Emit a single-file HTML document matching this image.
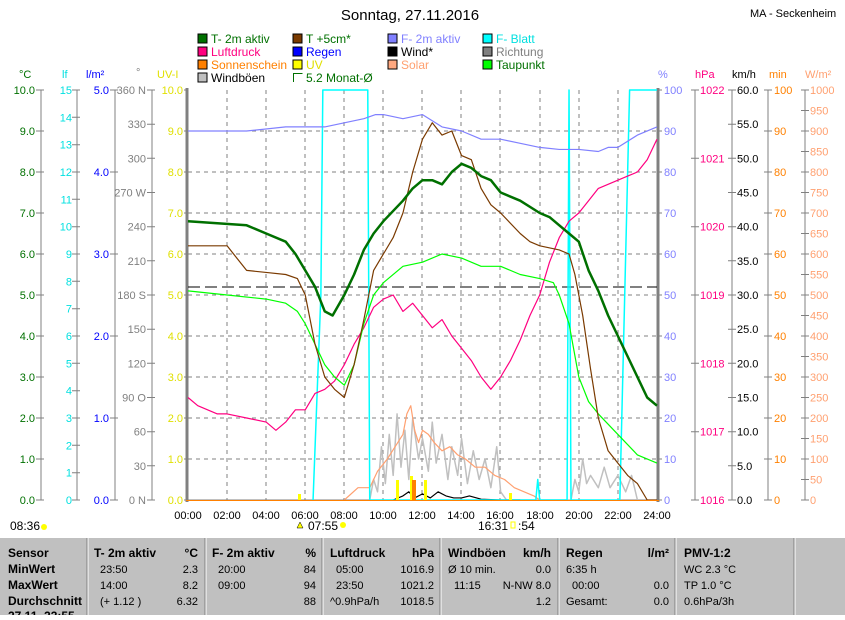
<!DOCTYPE html>
<html><head><meta charset="utf-8"><style>
body{margin:0;background:#fff;width:845px;height:615px;overflow:hidden;font-family:"Liberation Sans",sans-serif}
svg text{font-family:"Liberation Sans",sans-serif;font-size:11px}
</style></head><body>
<svg width="845" height="615" viewBox="0 0 845 615" xmlns="http://www.w3.org/2000/svg">
<rect width="845" height="615" fill="#fff"/>
<text x="410" y="20" text-anchor="middle" style="font-size:15px">Sonntag, 27.11.2016</text>
<text x="750" y="17" style="font-size:11px">MA - Seckenheim</text>
<g style="font-size:12px">
<rect x="198" y="34" width="9" height="9" fill="#007000" stroke="#000"/><text x="211" y="43" fill="#007000" style="font-size:12px">T- 2m aktiv</text>
<rect x="293" y="34" width="9" height="9" fill="#7a3a00" stroke="#000"/><text x="306" y="43" fill="#007000" style="font-size:12px">T +5cm*</text>
<rect x="388" y="34" width="9" height="9" fill="#8080ff" stroke="#000"/><text x="401" y="43" fill="#8080ff" style="font-size:12px">F- 2m aktiv</text>
<rect x="483" y="34" width="9" height="9" fill="#00ffff" stroke="#000"/><text x="496" y="43" fill="#00e0e0" style="font-size:12px">F- Blatt</text>
<rect x="198" y="47" width="9" height="9" fill="#ff0080" stroke="#000"/><text x="211" y="56" fill="#ff0080" style="font-size:12px">Luftdruck</text>
<rect x="293" y="47" width="9" height="9" fill="#0000ff" stroke="#000"/><text x="306" y="56" fill="#0000ff" style="font-size:12px">Regen</text>
<rect x="388" y="47" width="9" height="9" fill="#000" stroke="#000"/><text x="401" y="56" style="font-size:12px">Wind*</text>
<rect x="483" y="47" width="9" height="9" fill="#808080" stroke="#000"/><text x="496" y="56" fill="#808080" style="font-size:12px">Richtung</text>
<rect x="198" y="60" width="9" height="9" fill="#ff8000" stroke="#000"/><text x="211" y="69" fill="#ff8000" style="font-size:12px">Sonnenschein</text>
<rect x="293" y="60" width="9" height="9" fill="#ffff00" stroke="#000"/><text x="306" y="69" fill="#e0e000" style="font-size:12px">UV</text>
<rect x="388" y="60" width="9" height="9" fill="#ffa880" stroke="#000"/><text x="401" y="69" fill="#ffa070" style="font-size:12px">Solar</text>
<rect x="483" y="60" width="9" height="9" fill="#00ff00" stroke="#000"/><text x="496" y="69" fill="#007000" style="font-size:12px">Taupunkt</text>
<rect x="198" y="73" width="9" height="9" fill="#c0c0c0" stroke="#000"/><text x="211" y="82" style="font-size:12px">Windböen</text>
<path d="M293.5 82V73.5h9" fill="none" stroke="#007000"/><text x="306" y="82" fill="#007000" style="font-size:12px">5.2 Monat-Ø</text>
</g>
<g>
<text x="19" y="78" fill="#007000">°C</text>
<text x="62" y="78" fill="#00e0e0">lf</text>
<text x="86" y="78" fill="#0000ff">l/m²</text>
<text x="136" y="76" fill="#808080">°</text>
<text x="157" y="78" fill="#e0e000">UV-I</text>
<text x="658" y="78" fill="#8080ff">%</text>
<text x="695" y="78" fill="#ff0080">hPa</text>
<text x="732" y="78">km/h</text>
<text x="769" y="78" fill="#ff8000">min</text>
<text x="805" y="78" fill="#ffa070">W/m²</text>
</g>
<g stroke="#808080" stroke-width="1">
<line x1="41" y1="90" x2="41" y2="500"/><line x1="77" y1="90" x2="77" y2="500"/>
<line x1="115" y1="90" x2="115" y2="500"/><line x1="152" y1="90" x2="152" y2="500"/>
<line x1="695" y1="90" x2="695" y2="500"/><line x1="732" y1="90" x2="732" y2="500"/>
<line x1="768" y1="90" x2="768" y2="500"/><line x1="805" y1="90" x2="805" y2="500"/>
</g>
<!-- ticks -->
<g stroke="#808080">
<path d="M36 500h8M36 459h8M36 418h8M36 377h8M36 336h8M36 295h8M36 254h8M36 213h8M36 172h8M36 131h8M36 90h8"/>
<path d="M72 500h8M72 472.7h8M72 445.3h8M72 418h8M72 390.7h8M72 363.3h8M72 336h8M72 308.7h8M72 281.3h8M72 254h8M72 226.7h8M72 199.3h8M72 172h8M72 144.7h8M72 117.3h8M72 90h8"/>
<path d="M110 500h8M110 418h8M110 336h8M110 254h8M110 172h8M110 90h8"/>
<path d="M147 500h8M147 465.8h8M147 431.7h8M147 397.5h8M147 363.3h8M147 329.2h8M147 295h8M147 260.8h8M147 226.7h8M147 192.5h8M147 158.3h8M147 124.2h8M147 90h8"/>
<path d="M184 500h4M184 459h4M184 418h4M184 377h4M184 336h4M184 295h4M184 254h4M184 213h4M184 172h4M184 131h4M184 90h4"/>
<path d="M658 500h4M658 459h4M658 418h4M658 377h4M658 336h4M658 295h4M658 254h4M658 213h4M658 172h4M658 131h4M658 90h4"/>
<path d="M691 500h8M691 431.7h8M691 363.3h8M691 295h8M691 226.7h8M691 158.3h8M691 90h8"/>
<path d="M728 500h8M728 465.8h8M728 431.7h8M728 397.5h8M728 363.3h8M728 329.2h8M728 295h8M728 260.8h8M728 226.7h8M728 192.5h8M728 158.3h8M728 124.2h8M728 90h8"/>
<path d="M764 500h8M764 459h8M764 418h8M764 377h8M764 336h8M764 295h8M764 254h8M764 213h8M764 172h8M764 131h8M764 90h8"/>
<path d="M801 500h8M801 479.5h8M801 459h8M801 438.5h8M801 418h8M801 397.5h8M801 377h8M801 356.5h8M801 336h8M801 315.5h8M801 295h8M801 274.5h8M801 254h8M801 233.5h8M801 213h8M801 192.5h8M801 172h8M801 151.5h8M801 131h8M801 110.5h8M801 90h8"/>
</g>
<g text-anchor="end" fill="#007000" style="font-size:12px">
<text x="35" y="504">0.0</text><text x="35" y="463">1.0</text><text x="35" y="422">2.0</text><text x="35" y="381">3.0</text><text x="35" y="340">4.0</text><text x="35" y="299">5.0</text><text x="35" y="258">6.0</text><text x="35" y="217">7.0</text><text x="35" y="176">8.0</text><text x="35" y="135">9.0</text><text x="35" y="94">10.0</text>
</g>
<g text-anchor="end" fill="#00e0e0" style="font-size:12px">
<text x="72" y="504">0</text><text x="72" y="476.7">1</text><text x="72" y="449.3">2</text><text x="72" y="422">3</text><text x="72" y="394.7">4</text><text x="72" y="367.3">5</text><text x="72" y="340">6</text><text x="72" y="312.7">7</text><text x="72" y="285.3">8</text><text x="72" y="258">9</text><text x="72" y="230.7">10</text><text x="72" y="203.3">11</text><text x="72" y="176">12</text><text x="72" y="148.7">13</text><text x="72" y="121.3">14</text><text x="72" y="94">15</text>
</g>
<g text-anchor="end" fill="#0000ff" style="font-size:12px">
<text x="109" y="504">0.0</text><text x="109" y="422">1.0</text><text x="109" y="340">2.0</text><text x="109" y="258">3.0</text><text x="109" y="176">4.0</text><text x="109" y="94">5.0</text>
</g>
<g text-anchor="end" fill="#808080" style="font-size:12px">
<text x="146" y="504">0 N</text><text x="146" y="469.8">30</text><text x="146" y="435.7">60</text><text x="146" y="401.5">90 O</text><text x="146" y="367.3">120</text><text x="146" y="333.2">150</text><text x="146" y="299">180 S</text><text x="146" y="264.8">210</text><text x="146" y="230.7">240</text><text x="146" y="196.5">270 W</text><text x="146" y="162.3">300</text><text x="146" y="128.2">330</text><text x="146" y="94">360 N</text>
</g>
<g text-anchor="end" fill="#e0e000" style="font-size:12px">
<text x="183" y="504">0.0</text><text x="183" y="463">1.0</text><text x="183" y="422">2.0</text><text x="183" y="381">3.0</text><text x="183" y="340">4.0</text><text x="183" y="299">5.0</text><text x="183" y="258">6.0</text><text x="183" y="217">7.0</text><text x="183" y="176">8.0</text><text x="183" y="135">9.0</text><text x="183" y="94">10.0</text>
</g>
<g fill="#8080ff" style="font-size:12px">
<text x="664" y="504">0</text><text x="664" y="463">10</text><text x="664" y="422">20</text><text x="664" y="381">30</text><text x="664" y="340">40</text><text x="664" y="299">50</text><text x="664" y="258">60</text><text x="664" y="217">70</text><text x="664" y="176">80</text><text x="664" y="135">90</text><text x="664" y="94">100</text>
</g>
<g fill="#ff0080" style="font-size:12px">
<text x="700" y="504">1016</text><text x="700" y="435.7">1017</text><text x="700" y="367.3">1018</text><text x="700" y="299">1019</text><text x="700" y="230.7">1020</text><text x="700" y="162.3">1021</text><text x="700" y="94">1022</text>
</g>
<g fill="#000" style="font-size:12px">
<text x="737" y="504">0.0</text><text x="737" y="469.8">5.0</text><text x="737" y="435.7">10.0</text><text x="737" y="401.5">15.0</text><text x="737" y="367.3">20.0</text><text x="737" y="333.2">25.0</text><text x="737" y="299">30.0</text><text x="737" y="264.8">35.0</text><text x="737" y="230.7">40.0</text><text x="737" y="196.5">45.0</text><text x="737" y="162.3">50.0</text><text x="737" y="128.2">55.0</text><text x="737" y="94">60.0</text>
</g>
<g fill="#ff8000" style="font-size:12px">
<text x="774" y="504">0</text><text x="774" y="463">10</text><text x="774" y="422">20</text><text x="774" y="381">30</text><text x="774" y="340">40</text><text x="774" y="299">50</text><text x="774" y="258">60</text><text x="774" y="217">70</text><text x="774" y="176">80</text><text x="774" y="135">90</text><text x="774" y="94">100</text>
</g>
<g fill="#ffa070" style="font-size:12px">
<text x="810" y="504">0</text><text x="810" y="483.5">50</text><text x="810" y="463">100</text><text x="810" y="442.5">150</text><text x="810" y="422">200</text><text x="810" y="401.5">250</text><text x="810" y="381">300</text><text x="810" y="360.5">350</text><text x="810" y="340">400</text><text x="810" y="319.5">450</text><text x="810" y="299">500</text><text x="810" y="278.5">550</text><text x="810" y="258">600</text><text x="810" y="237.5">650</text><text x="810" y="217">700</text><text x="810" y="196.5">750</text><text x="810" y="176">800</text><text x="810" y="155.5">850</text><text x="810" y="135">900</text><text x="810" y="114.5">950</text><text x="810" y="94">1000</text>
</g>
<!-- plot grid -->
<g stroke="#808080" stroke-dasharray="4,4">
<line x1="188" y1="131" x2="657" y2="131"/><line x1="188" y1="172" x2="657" y2="172"/><line x1="188" y1="213" x2="657" y2="213"/><line x1="188" y1="254" x2="657" y2="254"/><line x1="188" y1="295" x2="657" y2="295"/><line x1="188" y1="336" x2="657" y2="336"/><line x1="188" y1="377" x2="657" y2="377"/><line x1="188" y1="418" x2="657" y2="418"/><line x1="188" y1="459" x2="657" y2="459"/>
<line x1="227" y1="90" x2="227" y2="500"/><line x1="266" y1="90" x2="266" y2="500"/><line x1="305" y1="90" x2="305" y2="500"/><line x1="344" y1="90" x2="344" y2="500"/><line x1="383" y1="90" x2="383" y2="500"/><line x1="422" y1="90" x2="422" y2="500"/><line x1="461" y1="90" x2="461" y2="500"/><line x1="500" y1="90" x2="500" y2="500"/><line x1="540" y1="90" x2="540" y2="500"/><line x1="579" y1="90" x2="579" y2="500"/><line x1="618" y1="90" x2="618" y2="500"/>
</g>
<line x1="187" y1="88" x2="187" y2="502" stroke="#808080" stroke-width="3"/>
<line x1="658" y1="88" x2="658" y2="502" stroke="#808080" stroke-width="3"/>
<line x1="186" y1="500" x2="659" y2="500" stroke="#808080" stroke-width="1"/>
<line x1="188" y1="287" x2="657" y2="287" stroke="#000" stroke-dasharray="12,5" stroke-width="1"/>
<g transform="translate(188,500) scale(19.54,-41)" fill="none" stroke-linejoin="round">
<polyline vector-effect="non-scaling-stroke" stroke="#c0c0c0" stroke-width="1.5" points="9.3,0 9.5,0.5 9.7,0.2 9.9,1.3 10.1,0.4 10.3,1.6 10.5,0.6 10.7,2.1 10.9,0.8 11.1,1.7 11.3,0.5 11.5,2.0 11.8,1.0 12,1.5 12.3,0.7 12.5,1.9 12.7,0.9 13,1.6 13.3,0.5 13.5,1.3 13.8,0.6 14,1.5 14.3,0.4 14.6,1.2 14.9,0.5 15.2,1.0 15.5,0.3 15.8,1.3 16,0.2 16.3,0 19.6,0 19.8,0.5 20,0.2 20.2,1.0 20.4,0.4 20.6,0.6 21,0.3 21.3,0.8 21.6,0.3 22,0.6 22.4,0.2 22.7,0.6 23,0"/>
<polyline vector-effect="non-scaling-stroke" stroke="#ffa070" stroke-width="1.2" points="8,0 8.7,0.3 9.3,0.3 9.7,0.7 10.2,1.0 10.6,1.3 11,1.6 11.2,2.1 11.4,2.3 11.6,1.7 11.8,1.4 12,1.7 12.3,1.6 12.6,1.4 13,1.2 13.4,1.3 13.8,1.1 14.2,1.0 14.7,0.8 15.2,0.8 15.7,0.6 16.2,0.5 16.7,0.3 17.2,0.2 17.7,0.1 18,0"/>
<polyline vector-effect="non-scaling-stroke" stroke="#000" stroke-width="1.2" points="10.5,0 11.0,0.1 11.3,0.2 11.6,0.05 12,0.15 12.4,0.05 12.8,0.2 13.2,0.1 13.6,0.05 14,0.05 14.4,0.1 15,0.02 16,0 17,0"/>
<polyline vector-effect="non-scaling-stroke" stroke="#00ffff" stroke-width="1.5" points="6.4,0 6.8,5 6.9,10 9.2,10 9.3,0 17.8,0 17.9,0.5 18,0 19.4,0 19.5,10 19.6,0 22.1,0 22.5,8 22.6,10 24,10"/>
<polyline vector-effect="non-scaling-stroke" stroke="#8080ff" stroke-width="1.2" points="0,9.0 3,9.0 5,9.1 7,9.1 8,9.2 9,9.3 9.6,9.4 10,9.4 11,9.3 12,9.4 13,9.1 14,9.0 15,8.8 16,8.8 17,8.7 18,8.6 19,8.55 20,8.55 21,8.5 21.5,8.6 22,8.6 23,8.9 24,9.1"/>
<polyline vector-effect="non-scaling-stroke" stroke="#ff0080" stroke-width="1.2" points="0,2.5 0.5,2.3 1,2.2 1.5,2.1 2,2.1 3,2.0 4,1.9 4.5,1.7 5,1.9 5.5,2.2 6,2.2 6.5,2.6 7,2.7 7.5,2.9 8,3.3 8.5,3.8 9,4.2 9.5,4.7 10,4.9 10.5,5.0 11,4.6 11.5,4.8 12,4.5 12.5,4.2 13,4.4 13.5,4.0 14,3.7 14.5,3.4 15,3.0 15.5,2.7 16,3.0 16.5,3.4 17,3.9 17.5,4.5 18,5.0 18.5,5.8 19,6.4 19.5,6.8 20,7.0 20.5,7.3 21,7.6 21.5,7.7 22,7.8 22.5,7.9 23,8.0 23.5,8.3 24,8.8"/>
<polyline vector-effect="non-scaling-stroke" stroke="#00ff00" stroke-width="1.2" points="0,5.1 2,5.0 4,4.9 5,4.8 5.6,4.6 6,4.3 6.5,3.8 7,3.3 7.5,3.0 8,2.8 8.5,3.3 9,4.3 9.5,5.0 10,5.3 11,5.7 12,5.8 13,6.0 14,5.9 15,5.7 16,5.7 17,5.5 18,5.4 18.7,5.3 19,5.0 19.5,4.3 20,3.0 20.5,2.4 21,2.1 22,1.6 23,1.1 24,0.9"/>
<polyline vector-effect="non-scaling-stroke" stroke="#7a3a00" stroke-width="1.2" points="0,6.2 2,6.2 2.5,5.9 3,5.6 4,5.55 5,5.5 5.6,5.4 6,5.0 6.5,3.8 7,3.0 7.5,2.7 8,2.5 8.5,3.3 9,4.4 9.5,5.6 10,6.0 10.5,6.4 11,7.0 11.5,8.0 12,8.8 12.5,9.2 13,8.9 13.5,9.0 14,8.4 14.5,8.3 15,7.6 15.5,7.2 16,7.0 17,6.5 17.5,6.3 18,6.2 19,6.1 19.5,6.0 19.8,5.5 20.2,4.5 20.6,3.2 21,2.0 21.5,1.2 22,0.9 22.5,0.6 23,0.4 23.5,0 24,0"/>
<polyline vector-effect="non-scaling-stroke" stroke="#007000" stroke-width="2.5" points="0,6.8 3,6.7 4,6.5 5,6.3 5.5,6.0 6,5.6 6.5,5.2 7,4.6 7.4,4.5 8,5.0 8.5,5.5 9,6.1 9.5,6.5 10,6.8 11,7.3 11.5,7.6 12,7.8 12.5,7.8 13,7.7 13.5,8.0 14,8.2 14.5,8.1 15,7.9 15.5,7.8 16,7.5 17,7.3 18,7.0 18.5,6.9 19,6.7 19.5,6.5 20,6.3 20.5,5.6 21,5.1 21.5,4.5 22,4.0 22.5,3.5 23,3.0 23.5,2.5 24,2.3"/>
</g>
<g fill="#ffff00"><rect x="298" y="494" width="3" height="6"/><rect x="396" y="480" width="3" height="20"/><rect x="410" y="476" width="3" height="24"/><rect x="424" y="480" width="3" height="20"/><rect x="509" y="493" width="3" height="7"/></g>
<rect x="412" y="480" width="4" height="20" fill="#ff8000"/>
<line x1="186" y1="500.5" x2="659" y2="500.5" stroke="#ff8000" stroke-width="1"/>
<g text-anchor="middle" style="font-size:12px">
<text x="188" y="519">00:00</text><text x="227" y="519">02:00</text><text x="266" y="519">04:00</text><text x="305" y="519">06:00</text><text x="344" y="519">08:00</text><text x="383" y="519">10:00</text><text x="422" y="519">12:00</text><text x="461" y="519">14:00</text><text x="500" y="519">16:00</text><text x="540" y="519">18:00</text><text x="579" y="519">20:00</text><text x="618" y="519">22:00</text><text x="657" y="519">24:00</text>
</g>
<g style="font-size:12px"><text x="10" y="530" style="font-size:12px">08:36</text><text x="308" y="530" style="font-size:12px">07:55</text><text x="478" y="530" style="font-size:12px">16:31</text><text x="518" y="530" style="font-size:12px">:54</text></g>
<circle cx="44" cy="527" r="3" fill="#ffff00"/><circle cx="343" cy="525" r="3" fill="#ffff00"/><path d="M297 528l3-6 3 6z" fill="#ffff00" stroke="#000" stroke-width=".5"/>
<rect x="511" y="522" width="4" height="6" fill="none" stroke="#ffff00"/>
<rect x="0" y="538" width="845" height="77" fill="#c0c0c0"/>
<g stroke="#808080"><line x1="87" y1="538" x2="87" y2="615"/><line x1="205" y1="538" x2="205" y2="615"/><line x1="322" y1="538" x2="322" y2="615"/><line x1="440" y1="538" x2="440" y2="615"/><line x1="558" y1="538" x2="558" y2="615"/><line x1="675" y1="538" x2="675" y2="615"/><line x1="794" y1="538" x2="794" y2="615"/></g>
<g stroke="#fff"><line x1="88" y1="538" x2="88" y2="615"/><line x1="206" y1="538" x2="206" y2="615"/><line x1="323" y1="538" x2="323" y2="615"/><line x1="441" y1="538" x2="441" y2="615"/><line x1="559" y1="538" x2="559" y2="615"/><line x1="676" y1="538" x2="676" y2="615"/><line x1="795" y1="538" x2="795" y2="615"/></g>
<g font-weight="bold">
<text x="8" y="557" style="font-size:12px">Sensor</text><text x="8" y="573" style="font-size:12px">MinWert</text><text x="8" y="589" style="font-size:12px">MaxWert</text><text x="8" y="605" style="font-size:12px">Durchschnitt</text><text x="8" y="620" style="font-size:12px">27.11. 23:55</text>
<text x="94" y="557" style="font-size:12px">T- 2m aktiv</text><text x="198" y="557" text-anchor="end" style="font-size:12px">°C</text>
<text x="212" y="557" style="font-size:12px">F- 2m aktiv</text><text x="316" y="557" text-anchor="end" style="font-size:12px">%</text>
<text x="330" y="557" style="font-size:12px">Luftdruck</text><text x="434" y="557" text-anchor="end" style="font-size:12px">hPa</text>
<text x="448" y="557" style="font-size:12px">Windböen</text><text x="551" y="557" text-anchor="end" style="font-size:12px">km/h</text>
<text x="566" y="557" style="font-size:12px">Regen</text><text x="669" y="557" text-anchor="end" style="font-size:12px">l/m²</text>
<text x="684" y="557" style="font-size:12px">PMV-1:2</text>
</g>
<g>
<text x="100" y="573">23:50</text><text x="198" y="573" text-anchor="end">2.3</text>
<text x="100" y="589">14:00</text><text x="198" y="589" text-anchor="end">8.2</text>
<text x="100" y="605">(+ 1.12 )</text><text x="198" y="605" text-anchor="end">6.32</text>
<text x="218" y="573">20:00</text><text x="316" y="573" text-anchor="end">84</text>
<text x="218" y="589">09:00</text><text x="316" y="589" text-anchor="end">94</text>
<text x="316" y="605" text-anchor="end">88</text>
<text x="336" y="573">05:00</text><text x="434" y="573" text-anchor="end">1016.9</text>
<text x="336" y="589">23:50</text><text x="434" y="589" text-anchor="end">1021.2</text>
<text x="330" y="605">^0.9hPa/h</text><text x="434" y="605" text-anchor="end">1018.5</text>
<text x="448" y="573">Ø 10 min.</text><text x="551" y="573" text-anchor="end">0.0</text>
<text x="454" y="589">11:15</text><text x="551" y="589" text-anchor="end">N-NW 8.0</text>
<text x="551" y="605" text-anchor="end">1.2</text>
<text x="566" y="573">6:35 h</text>
<text x="572" y="589">00:00</text><text x="669" y="589" text-anchor="end">0.0</text>
<text x="566" y="605">Gesamt:</text><text x="669" y="605" text-anchor="end">0.0</text>
<text x="684" y="573">WC 2.3 °C</text><text x="684" y="589">TP 1.0 °C</text><text x="684" y="605">0.6hPa/3h</text>
</g>
</svg>
</body></html>
